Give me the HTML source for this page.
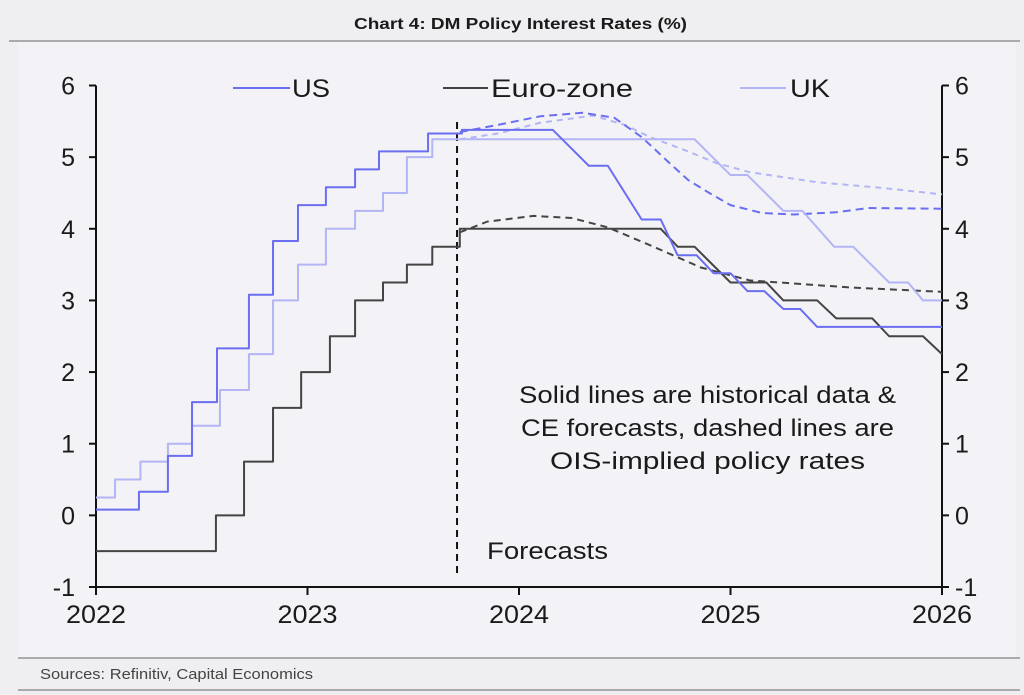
<!DOCTYPE html>
<html><head><meta charset="utf-8">
<style>
html,body{margin:0;padding:0;background:#efeff1;}
body{width:1024px;height:695px;position:relative;overflow:hidden;font-family:"Liberation Sans",sans-serif;}
</style></head>
<body>
<svg id="chart" width="1024" height="695" xmlns="http://www.w3.org/2000/svg" style="position:absolute;left:0;top:0">
<rect x="18" y="41" width="998" height="617" fill="#f3f3f7"/>
<text x="354" y="29" font-size="16" font-weight="bold" fill="#1a1a1a" textLength="333" lengthAdjust="spacingAndGlyphs">Chart 4: DM Policy Interest Rates (%)</text>
<line x1="9" y1="41" x2="1020" y2="41" stroke="#666" stroke-width="1"/>
<line x1="18" y1="658" x2="1020" y2="658" stroke="#666" stroke-width="1"/>
<line x1="18" y1="690" x2="1020" y2="690" stroke="#666" stroke-width="1"/>
<text x="40" y="679" font-size="15" fill="#444" textLength="273" lengthAdjust="spacingAndGlyphs">Sources: Refinitiv, Capital Economics</text>
<g id="axes"></g>
<g id="series"></g>
<g font-size="25" fill="#1a1a1a">
<line x1="233" y1="88" x2="290" y2="88" stroke="#6b6ef0" stroke-width="2"/>
<text x="292" y="97" textLength="38" lengthAdjust="spacingAndGlyphs">US</text>
<line x1="443" y1="88" x2="488" y2="88" stroke="#444" stroke-width="2"/>
<text x="491" y="97" textLength="142" lengthAdjust="spacingAndGlyphs">Euro-zone</text>
<line x1="740" y1="88" x2="786" y2="88" stroke="#b3b5f5" stroke-width="2"/>
<text x="790" y="97" textLength="40" lengthAdjust="spacingAndGlyphs">UK</text>
</g>
<g font-size="24" fill="#1a1a1a">
<text x="519" y="403" textLength="377" lengthAdjust="spacingAndGlyphs">Solid lines are historical data &amp;</text>
<text x="521" y="436" textLength="373" lengthAdjust="spacingAndGlyphs">CE forecasts, dashed lines are</text>
<text x="550" y="469" textLength="315" lengthAdjust="spacingAndGlyphs">OIS-implied policy rates</text>
</g>
<text x="487" y="559" font-size="24" fill="#1a1a1a" textLength="121" lengthAdjust="spacingAndGlyphs">Forecasts</text>
</svg>
<script>
const yTicks = [-1,0,1,2,3,4,5,6];
const xTicks = [2022,2023,2024,2025,2026];
const forecastStart = 2023.707;
const usHist = [[2022,0.08],[2022.203,0.33],[2022.34,0.83],[2022.454,1.58],[2022.572,2.33],[2022.723,3.08],[2022.837,3.83],[2022.955,4.33],[2023.087,4.58],[2023.225,4.83],[2023.338,5.08],[2023.57,5.33],[2023.73,5.38]];
const usFcst = [[2024.16,5.38],[2024.33,4.88],[2024.42,4.88],[2024.58,4.13],[2024.67,4.13],[2024.75,3.63],[2024.84,3.63],[2024.92,3.38],[2025.0,3.38],[2025.08,3.13],[2025.16,3.13],[2025.25,2.88],[2025.33,2.88],[2025.41,2.63],[2026.0,2.63]];
const ukHist = [[2022,0.25],[2022.09,0.5],[2022.21,0.75],[2022.34,1.0],[2022.454,1.25],[2022.586,1.75],[2022.723,2.25],[2022.837,3.0],[2022.955,3.5],[2023.087,4.0],[2023.225,4.25],[2023.357,4.5],[2023.47,5.0],[2023.59,5.25]];
const ukFcst = [[2024.83,5.25],[2025.0,4.75],[2025.08,4.75],[2025.25,4.25],[2025.34,4.25],[2025.49,3.75],[2025.58,3.75],[2025.75,3.25],[2025.84,3.25],[2025.91,3.0],[2026.0,3.0]];
const euHist = [[2022,-0.5],[2022.567,0],[2022.70,0.75],[2022.837,1.5],[2022.97,2.0],[2023.106,2.5],[2023.225,3.0],[2023.357,3.25],[2023.47,3.5],[2023.59,3.75],[2023.72,4.0]];
const euFcst = [[2024.67,4.0],[2024.75,3.75],[2024.83,3.75],[2025.0,3.25],[2025.17,3.25],[2025.25,3.0],[2025.41,3.0],[2025.5,2.75],[2025.67,2.75],[2025.75,2.5],[2025.91,2.5],[2026.0,2.25]];
const usOis = [[2023.72,5.35],[2023.9,5.45],[2024.1,5.57],[2024.3,5.62],[2024.45,5.55],[2024.58,5.28],[2024.7,4.95],[2024.8,4.68],[2024.9,4.5],[2025.0,4.33],[2025.15,4.22],[2025.3,4.2],[2025.5,4.23],[2025.65,4.29],[2026.0,4.28]];
const ukOis = [[2023.72,5.25],[2023.9,5.33],[2024.1,5.48],[2024.35,5.58],[2024.5,5.45],[2024.62,5.28],[2024.8,5.08],[2024.93,4.92],[2025.09,4.79],[2025.41,4.65],[2025.72,4.57],[2026.0,4.48]];
const euOis = [[2023.72,3.95],[2023.85,4.1],[2024.07,4.18],[2024.25,4.15],[2024.42,4.02],[2024.62,3.77],[2024.86,3.46],[2025.09,3.28],[2025.57,3.18],[2026.0,3.12]];

const X0=96,X1=942,Y0=587,Y1=85.5;
const xs = t => X0 + (t-2022)/(2026-2022)*(X1-X0);
const ys = v => Y0 - (v+1)/7*(Y0-Y1);
const NS="http://www.w3.org/2000/svg";
const axes=document.getElementById('axes'), series=document.getElementById('series');
function mk(tag, attrs, parent){const e=document.createElementNS(NS,tag);for(const k in attrs)e.setAttribute(k,attrs[k]);parent.appendChild(e);return e;}

let e;
e=mk('line',{x1:X0,y1:Y1,x2:X0,y2:Y0,stroke:'#111','stroke-width':2},axes);


e=mk('line',{x1:X1,y1:Y1,x2:X1,y2:Y0,stroke:'#111','stroke-width':2},axes);


e=mk('line',{x1:X0,y1:Y0,x2:X1,y2:Y0,stroke:'#111','stroke-width':2},axes);


yTicks.forEach(v=>{
  const y=ys(v);
  e=mk('line',{x1:X0-7,y1:y,x2:X0,y2:y,stroke:'#111','stroke-width':2},axes);
  
  
  e=mk('line',{x1:X1,y1:y,x2:X1+7,y2:y,stroke:'#111','stroke-width':2},axes);
  
  
  e=mk('text',{x:X0-21,y:y+9,'font-size':25,'text-anchor':'end',fill:'#1a1a1a'},axes);
  e.textContent=v;
  
  
  e=mk('text',{x:X1+13,y:y+9,'font-size':25,'text-anchor':'start',fill:'#1a1a1a'},axes);
  e.textContent=v;
  
  
});
xTicks.forEach(t=>{
  const x=xs(t);
  e=mk('line',{x1:x,y1:Y0,x2:x,y2:Y0+8,stroke:'#111','stroke-width':2},axes);
  
  
  e=mk('text',{x:x,y:Y0+36,'font-size':25,'text-anchor':'middle',fill:'#1a1a1a',textLength:60,lengthAdjust:'spacingAndGlyphs'},axes);
  e.textContent=t;
  
  
});
e=mk('line',{x1:xs(forecastStart),y1:122,x2:xs(forecastStart),y2:578,stroke:'#111','stroke-width':2,'stroke-dasharray':'7,5'},axes);



function stepPath(pts){let d='M'+xs(pts[0][0])+','+ys(pts[0][1]);for(let i=1;i<pts.length;i++){d+=' L'+xs(pts[i][0])+','+ys(pts[i-1][1])+' L'+xs(pts[i][0])+','+ys(pts[i][1]);}return d;}
function linePath(pts){return pts.map((p,i)=>(i?'L':'M')+xs(p[0])+','+ys(p[1])).join(' ');}
function hist(pts,fc){
  let d=stepPath(pts);
  const last=pts[pts.length-1];
  d+=' L'+xs(fc[0][0])+','+ys(last[1]);
  fc.forEach(p=>{d+=' L'+xs(p[0])+','+ys(p[1]);});
  return d;
}
const specs=[
 ['uk-ois-line',linePath(ukOis),'#b3b5f5','6,5'],
 ['us-ois-line',linePath(usOis),'#6b6ef0','8,5'],
 ['euro-ois-line',linePath(euOis),'#444','7,5'],
 ['euro-zone-line',hist(euHist,euFcst),'#444',null],
 ['uk-line',hist(ukHist,ukFcst),'#b3b5f5',null],
 ['us-line',hist(usHist,usFcst),'#6b6ef0',null]
];
specs.forEach(s=>{
  const p=mk('path',{d:s[1],fill:'none',stroke:s[2],'stroke-width':2,'stroke-linejoin':'round'},series);
  if(s[3])p.setAttribute('stroke-dasharray',s[3]);
  
  
});
</script>
</body></html>
